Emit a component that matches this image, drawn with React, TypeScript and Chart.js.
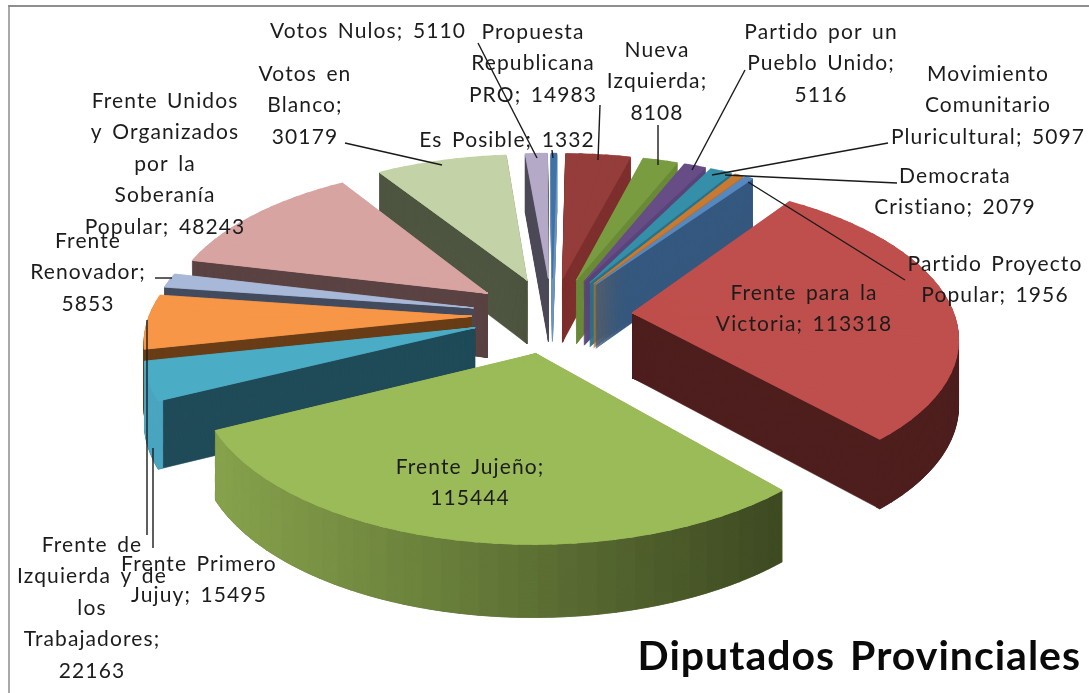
import React, { useEffect, useRef } from "react";
import { Chart, registerables } from "chart.js";

Chart.register(...registerables);

// ---- data ----
const categories = [
  "Frente para la Victoria",
  "Frente Jujeño",
  "Frente Primero Jujuy",
  "Frente de Izquierda y de los Trabajadores",
  "Frente Renovador",
  "Frente Unidos y Organizados por la Soberanía Popular",
  "Votos en Blanco",
  "Votos Nulos",
  "Es Posible",
  "Propuesta Republicana PRO",
  "Nueva Izquierda",
  "Partido por un Pueblo Unido",
  "Movimiento Comunitario Pluricultural",
  "Democrata Cristiano",
  "Partido Proyecto Popular",
];
const votes = [113318, 115444, 15495, 22163, 5853, 48243, 30179, 5110, 1332, 14983, 8108, 5116, 5097, 2079, 1956];
const labelLines = [
  ["Frente para la", "Victoria; 113318"],
  ["Frente Jujeño;", "115444"],
  ["Frente Primero", "Jujuy; 15495"],
  ["Frente de", "Izquierda y de", "los", "Trabajadores;", "22163"],
  ["Frente", "Renovador;", "5853"],
  ["Frente Unidos", "y Organizados", "por la", "Soberanía", "Popular; 48243"],
  ["Votos en", "Blanco;", "30179"],
  ["Votos Nulos; 5110"],
  ["Es Posible; 1332"],
  ["Propuesta", "Republicana", "PRO; 14983"],
  ["Nueva", "Izquierda;", "8108"],
  ["Partido por un", "Pueblo Unido;", "5116"],
  ["Movimiento", "Comunitario", "Pluricultural; 5097"],
  ["Democrata", "Cristiano; 2079"],
  ["Partido Proyecto", "Popular; 1956"],
];
const chartTitle = "Diputados Provinciales";

// ---- styles ----
const topColors = ["#bf4f4c", "#9bbb59", "#4bacc6", "#f79646", "#a8b8d8", "#d7a4a2", "#c3d3a7", "#b4aac8", "#3f72a6", "#953d3a", "#7a9c40", "#674d85", "#358fa8", "#c87a33", "#5688c0"];
const faceColors = ["#4e1f1e", "#5f7535", "#204b59", "#693d17", "#434b5e", "#5b4343", "#4e5540", "#4d4a58", "#6d94bd", "#7e2f2d", "#6a8a38", "#5a4479", "#2a7288", "#b96f2a", "#35587f"];
const rimLeft = ["#4e1f1e", "#86a24c", "#4aa5c0", "#693d17", "#434b5e", "#5b4343", "#4e5540", "#4d4a58", "#6d94bd", "#7e2f2d", "#6a8a38", "#5a4479", "#2a7288", "#b96f2a", "#35587f"];
const rimRight = ["#4e1f1e", "#3e4a22", "#4aa5c0", "#693d17", "#434b5e", "#5b4343", "#4e5540", "#4d4a58", "#6d94bd", "#7e2f2d", "#6a8a38", "#5a4479", "#2a7288", "#b96f2a", "#35587f"];

// ---- label layout: centre x, first-line y; leader line from -> to ----
const labelCenters = [
  [804, 293], [470, 467], [199, 564], [92, 545], [88, 241], [165, 101], [305, 74], [368, 31],
  [507, 140], [533, 32], [657, 50], [821, 32], [988, 74], [955, 176], [995, 264],
];
const leaders = [
  [345, 143, 442, 165], [478, 43, 537, 158], [552, 150, 553, 158], [600, 105, 598, 160],
  [658, 125, 658, 165], [745, 70, 692, 170], [888, 143, 712, 175], [897, 183, 725, 175],
  [905, 280, 748, 182], [155, 278, 172, 278], [147, 535, 147, 320], [153, 548, 153, 448],
];
const LABEL_FONT = '21px Lato, "Noto Sans", sans-serif';
const TITLE_FONT = 'bold 41px Lato, "Noto Sans", sans-serif';

// ---- camera ----
const ROTATION = 35;
const EXPLODE = 0.25;
const RX = 322;
const RY = 152;
const PERSP = 0.14;
const CX = 552;
const CY = 315;
const DEPTH = 65;
const DEPTH_PERSP = 0.09;
const STEP = (3 * Math.PI) / 180;
const TOP_OVERLAP = (0.8 * Math.PI) / 180;

function project(u: number, v: number, z: number) {
  const s = 1 / (1 - PERSP * v);
  return { x: CX + RX * u * s, y: CY + RY * v * s + (DEPTH * z) / (1 - DEPTH_PERSP * v) };
}
function hex(c: string) {
  return [1, 3, 5].map((i) => parseInt(c.slice(i, i + 2), 16));
}
function mix(a: string, b: string, t: number) {
  const A = hex(a);
  const B = hex(b);
  return `rgb(${A.map((v, i) => Math.round(v + (B[i] - v) * t)).join(",")})`;
}

const pie3D = {
  id: "pie3D",
  beforeDatasetsDraw(chart: any) {
    const ctx: CanvasRenderingContext2D = chart.ctx;
    const arcs: any[] = chart.getDatasetMeta(0).data;

    const drawPiece = (arc: any, tipU: number, tipV: number, a0: number, a1: number, z: number, inner: number, color: string, seal: number) => {
      const R = arc.outerRadius;
      const d0 = project(tipU, tipV, z);
      const d1 = project(tipU + Math.cos(a0), tipV + Math.sin(a0), z);
      const d2 = project(tipU + Math.cos(a1), tipV + Math.sin(a1), z);
      const e1x = R * Math.cos(a0), e1y = R * Math.sin(a0);
      const e2x = R * Math.cos(a1), e2y = R * Math.sin(a1);
      const det = e1x * e2y - e2x * e1y;
      const ux = d1.x - d0.x, uy = d1.y - d0.y, wx = d2.x - d0.x, wy = d2.y - d0.y;
      const a = (ux * e2y - wx * e1y) / det;
      const c = (-ux * e2x + wx * e1x) / det;
      const b = (uy * e2y - wy * e1y) / det;
      const dd = (-uy * e2x + wy * e1x) / det;
      ctx.save();
      ctx.transform(a, b, c, dd, d0.x - a * arc.x - c * arc.y, d0.y - b * arc.x - dd * arc.y);
      const saved = { s: arc.startAngle, e: arc.endAngle, c: arc.circumference, i: arc.innerRadius, o: arc.options };
      arc.startAngle = a0;
      arc.endAngle = a1;
      arc.circumference = a1 - a0;
      arc.innerRadius = inner;
      arc.options = { ...saved.o, backgroundColor: color, borderColor: color, borderWidth: seal, offset: 0 };
      arc.draw(ctx);
      arc.startAngle = saved.s;
      arc.endAngle = saved.e;
      arc.circumference = saved.c;
      arc.innerRadius = saved.i;
      arc.options = saved.o;
      ctx.restore();
    };

    const order = arcs
      .map((arc, i) => ({ arc, i, mid: (arc.startAngle + arc.endAngle) / 2 }))
      .sort((p, q) => Math.sin(p.mid) - Math.sin(q.mid));

    for (const { arc, i, mid } of order) {
      const tipU = EXPLODE * Math.cos(mid);
      const tipV = EXPLODE * Math.sin(mid);
      const start = arc.startAngle;
      const end = arc.endAngle;
      const n = Math.max(1, Math.ceil((end - start) / STEP));
      const w = (end - start) / n;
      const x0 = project(tipU + Math.cos(end), tipV + Math.sin(end), 0).x;
      const x1 = project(tipU + Math.cos(start), tipV + Math.sin(start), 0).x;
      const forEachPiece = (fn: (a0: number, a1: number) => void) => {
        for (let k = 0; k < n; k++) {
          fn(start + k * w, start + (k + 1) * w);
        }
      };
      // cut faces: extruded wedge
      for (let d = DEPTH; d > 0; d--) {
        forEachPiece((a0, a1) => drawPiece(arc, tipU, tipV, a0, a1, d / DEPTH, 0, faceColors[i], 0.8));
      }
      // outer rim: extruded thin ring
      forEachPiece((a0, a1) => {
        const x = project(tipU + Math.cos((a0 + a1) / 2), tipV + Math.sin((a0 + a1) / 2), 0).x;
        const t = Math.abs(x1 - x0) < 1 ? 0 : Math.min(1, Math.max(0, (x - Math.min(x0, x1)) / Math.abs(x1 - x0)));
        const color = mix(rimLeft[i], rimRight[i], t);
        for (let d = DEPTH; d > 0; d--) {
          drawPiece(arc, tipU, tipV, a0, a1, d / DEPTH, arc.outerRadius * 0.985, color, 0.8);
        }
      });
      // top surface: two sealed passes with overlapping pieces so no seams show
      for (let pass = 0; pass < 2; pass++) {
        forEachPiece((a0, a1) =>
          drawPiece(arc, tipU, tipV, a0, Math.min(end, a1 + TOP_OVERLAP), 0, 0, topColors[i], 0.8),
        );
      }
    }
    return false;
  },
  afterDraw(chart: any) {
    const ctx: any = chart.ctx;
    ctx.save();
    // picture frame
    ctx.fillStyle = "#a9a9a9";
    ctx.fillRect(8, 5, 2, 688);
    ctx.fillStyle = "#8f8f8f";
    ctx.fillRect(8, 5, 1081, 2);
    // leader lines
    ctx.strokeStyle = "#1a1a1a";
    ctx.lineWidth = 1.4;
    for (const [x1, y1, x2, y2] of leaders) {
      ctx.beginPath();
      ctx.moveTo(x1, y1);
      ctx.lineTo(x2, y2);
      ctx.stroke();
    }
    // data labels
    ctx.fillStyle = "#1c1c1c";
    ctx.font = LABEL_FONT;
    ctx.letterSpacing = "1.1px";
    ctx.wordSpacing = "3px";
    ctx.textAlign = "center";
    ctx.textBaseline = "middle";
    labelLines.forEach((lines, i) => {
      const [x, y] = labelCenters[i];
      lines.forEach((line, k) => ctx.fillText(line, x, y + k * 31.5));
    });
    // title
    ctx.fillStyle = "#0a0a0a";
    ctx.font = TITLE_FONT;
    ctx.letterSpacing = "1px";
    ctx.wordSpacing = "4px";
    ctx.textAlign = "right";
    ctx.fillText(chartTitle, 1081, 657);
    ctx.restore();
  },
};

export default function App() {
  const ref = useRef<HTMLCanvasElement>(null);
  useEffect(() => {
    document.body.style.margin = "0";
    const chart = new Chart(ref.current!, {
      type: "pie",
      data: {
        labels: categories,
        datasets: [{ data: votes, backgroundColor: topColors, borderWidth: 0 }],
      },
      options: {
        responsive: false,
        animation: false,
        rotation: ROTATION,
        plugins: { legend: { display: false }, tooltip: { enabled: false } },
      },
      plugins: [pie3D],
    } as any);
    return () => chart.destroy();
  }, []);
  return <canvas ref={ref} width={1089} height={693} style={{ display: "block" }} />;
}
